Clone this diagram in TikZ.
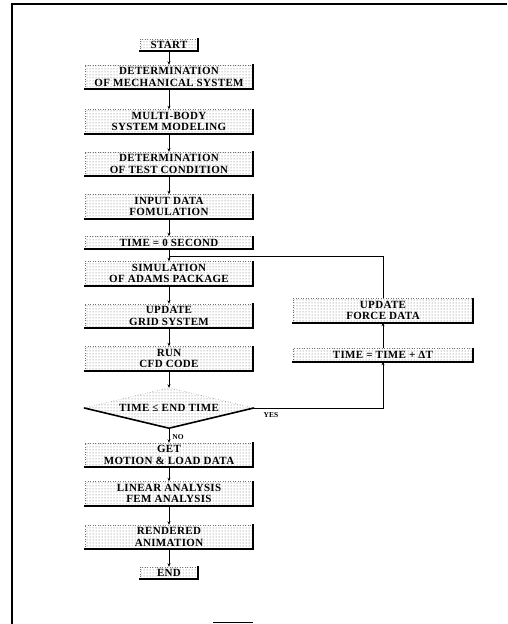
\documentclass[tikz,border=0pt]{standalone}
\usepackage{fontspec}
\setmainfont{Liberation Serif}
\newfontfamily\boxfont[LetterSpace=3]{Liberation Serif}
\usetikzlibrary{patterns,shapes.geometric,arrows.meta}
\begin{document}
\begin{tikzpicture}[x=1pt,y=-1pt,
  fbox/.style={pattern=dots, pattern color=black!60, minimum width=168pt,
    minimum height=24pt, inner sep=0pt, align=center,
    font=\boxfont\fontsize{11}{11.5}\selectfont\bfseries},
  sbox/.style={fbox, minimum width=58pt, minimum height=12pt},
  lbox/.style={fbox, minimum height=12pt},
  rbox/.style={fbox, minimum width=180pt},
  thickedge/.style={line width=1.6pt, line cap=rect},
  faintedge/.style={black!55, dotted, line width=0.5pt},
  conn/.style={line width=0.6pt},
  arr/.style={conn, -{Stealth[length=3.5pt,width=3pt]}},
  lab/.style={font=\fontsize{7.5}{8}\selectfont\bfseries, inner sep=0pt},
  frameline/.style={line width=1.2pt}
]
\useasboundingbox (0,0) rectangle (507,624);
% page frame
\draw[frameline] (12,624) -- (12,4) -- (507,4);
\draw[line width=0.8pt] (213,622) -- (253,622);

% left column
\node[sbox] (start) at (169,45) {START};
\node[fbox] (det)   at (169,77) {DETERMINATION\\OF MECHANICAL SYSTEM};
\node[fbox] (multi) at (169,121.5) {MULTI-BODY\\SYSTEM MODELING};
\node[fbox] (test)  at (169,164) {DETERMINATION\\OF TEST CONDITION};
\node[fbox] (input) at (169,206.5) {INPUT DATA\\FOMULATION};
\node[lbox] (t0)    at (169,242.5) {TIME = 0 SECOND};
\node[fbox] (sim)   at (169,273.5) {SIMULATION\\OF ADAMS PACKAGE};
\node[fbox] (grid)  at (169,316) {UPDATE\\GRID SYSTEM};
\node[fbox] (run)   at (169,358.5) {RUN\\CFD CODE};
\node[diamond, pattern=dots, pattern color=black!60, minimum width=169pt,
      minimum height=40pt, aspect=4.2, inner sep=0pt,
      font=\boxfont\fontsize{11}{11.5}\selectfont\bfseries] (dec) at (169,408) {TIME ≤ END TIME};
\node[fbox] (get)   at (169,455) {GET\\MOTION \& LOAD DATA};
\node[fbox] (lin)   at (169,493.5) {LINEAR ANALYSIS\\FEM ANALYSIS};
\node[fbox] (ren)   at (169,537) {RENDERED\\ANIMATION};
\node[sbox] (end)   at (169,573) {END};

% right column
\node[rbox] (force) at (383,310.5) {UPDATE\\FORCE DATA};
\node[rbox, minimum height=13pt] (tdt) at (383,355) {TIME = TIME + ΔT};

% box edges: faint top/left, thick bottom/right
\foreach \n in {start,det,multi,test,input,t0,sim,grid,run,get,lin,ren,end,force,tdt}{
  \draw[faintedge] (\n.south west) -- (\n.north west) -- (\n.north east);
  \draw[thickedge] (\n.south west) -- (\n.south east) -- (\n.north east);
}
\draw[faintedge] (dec.west) -- (dec.north) -- (dec.east);
\draw[thickedge, line cap=round] (dec.west) -- (dec.south) -- (dec.east);

% connectors
\draw[arr] (start) -- (det);
\draw[arr] (det) -- (multi);
\draw[arr] (multi) -- (test);
\draw[arr] (test) -- (input);
\draw[arr] (input) -- (t0);
\draw[arr] (t0) -- (sim);
\draw[arr] (sim) -- (grid);
\draw[arr] (grid) -- (run);
\draw[arr] (run) -- (dec.north);
\draw[arr] (dec.south) -- (get);
\draw[arr] (get) -- (lin);
\draw[arr] (lin) -- (ren);
\draw[arr] (ren) -- (end);

\coordinate (jn) at (169,256);
\draw[arr] (dec.east) -| (tdt.south);
\draw[arr] (tdt) -- (force);
\draw[conn] (force.north) |- (jn);

% labels
\node[lab] (yes) at (271,415) {YES};
\node[lab] (no)  at (178,437) {NO};
\end{tikzpicture}
\end{document}
